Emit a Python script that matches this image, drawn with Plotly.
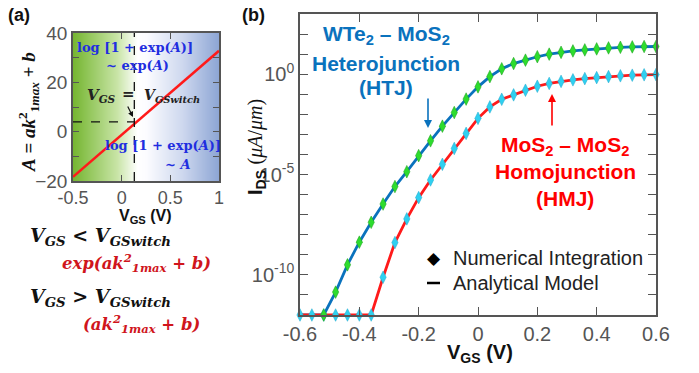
import plotly.graph_objects as go

# ---------------- data ----------------
# panel (a): A = a*k1max^2 + b versus V_GS
a_vgs = [-0.5, 1.0]
a_A = [-18.3, 32.8]
v_switch = 0.13
a_switch = 4.0
a_xticks = [-0.5, 0, 0.5, 1]
a_xticktext = ["-0.5", "0", "0.5", "1"]
a_yticks = [-20, 0, 20, 40]
a_yminor = [-10, 10, 30]

# panel (b): I_DS (log10 of uA/um) versus V_GS, step 0.04 V
vgs = [-0.60, -0.56, -0.52, -0.48, -0.44, -0.40, -0.36, -0.32, -0.28, -0.24,
       -0.20, -0.16, -0.12, -0.08, -0.04, 0.00, 0.04, 0.08, 0.12, 0.16,
       0.20, 0.24, 0.28, 0.32, 0.36, 0.40, 0.44, 0.48, 0.52, 0.56, 0.60]
htj_log = [-12, -12, -12, -10.86, -9.50, -8.37, -7.38, -6.47, -5.60, -4.86,
           -4.06, -3.32, -2.59, -1.91, -1.24, -0.63, -0.12, 0.27, 0.53, 0.70,
           0.87, 1.00, 1.09, 1.16, 1.21, 1.26, 1.31, 1.34, 1.36, 1.38, 1.38]
hmj_log = [-12, -12, -12, -12, -12, -12, -12, -10.12, -8.39, -7.21,
           -6.15, -5.27, -4.49, -3.70, -2.95, -2.20, -1.63, -1.25, -1.03, -0.80,
           -0.60, -0.46, -0.36, -0.28, -0.22, -0.17, -0.12, -0.08, -0.05, -0.03, -0.02]
b_xticks = [-0.6, -0.4, -0.2, 0, 0.2, 0.4, 0.6]
b_xticktext = ["-0.6", "-0.4", "-0.2", "0", "0.2", "0.4", "0.6"]
b_label_decades = [-10, -5, 0]
b_ticktext = ["10<sup>-10</sup>", "10<sup>-5</sup>", "10<sup>0</sup>"]
b_minor_decades = [d for d in range(-12, 4) if d not in b_label_decades]

htj = [10 ** v for v in htj_log]
hmj = [10 ** v for v in hmj_log]

# ---------------- styles ----------------
W, H = 699, 373
SANS = "Liberation Sans, Arial"
SERIF = "Liberation Serif, Times New Roman"
WSERIF = "DejaVu Serif, Liberation Serif"
BLUE_LINE = "#0a72bd"
RED_LINE = "#ff1a1a"
GREEN_MK = "#2edc2e"
CYAN_MK = "#2fd0f0"
TXT_BLUE = "#1f2ee0"
TXT_RED = "#d0151c"
AX = "#555555"
TICKC = "#555555"


def px(x):
    return x / W


def py(y):
    return 1 - y / H


fig = go.Figure()

# gradient background of panel (a)
fig.add_trace(go.Heatmap(
    x=a_vgs, y=[-20, 40], z=[[0, 1], [0, 1]], zsmooth="best",
    colorscale=[[0, "rgb(118,182,50)"], [0.3, "rgb(200,228,166)"],
                [0.44, "rgb(255,255,255)"], [0.5, "rgb(252,252,255)"],
                [0.75, "rgb(205,215,238)"], [1, "rgb(140,165,212)"]],
    showscale=False, hoverinfo="skip", xaxis="x", yaxis="y"))

fig.add_trace(go.Scatter(x=a_vgs, y=a_A, mode="lines",
                         line=dict(color=RED_LINE, width=2.5),
                         xaxis="x", yaxis="y", showlegend=False))

# panel (b) lines and markers
fig.add_trace(go.Scatter(x=vgs, y=htj, mode="lines", line=dict(color=BLUE_LINE, width=2.8),
                         xaxis="x2", yaxis="y2", cliponaxis=False, showlegend=False))
fig.add_trace(go.Scatter(x=vgs, y=hmj, mode="lines", line=dict(color=RED_LINE, width=2.8),
                         xaxis="x2", yaxis="y2", cliponaxis=False, showlegend=False))
fig.add_trace(go.Scatter(x=vgs, y=hmj, mode="markers",
                         marker=dict(symbol="diamond-tall", size=9, color=CYAN_MK,
                                     line=dict(width=0.5, color="#22a8cc")),
                         xaxis="x2", yaxis="y2", cliponaxis=False, showlegend=False))
fig.add_trace(go.Scatter(x=vgs[2:], y=htj[2:], mode="markers",
                         marker=dict(symbol="diamond-tall", size=9, color=GREEN_MK,
                                     line=dict(width=0.5, color="#1a9a1a")),
                         xaxis="x2", yaxis="y2", cliponaxis=False, showlegend=False))

axis_common = dict(showline=True, linecolor=AX, linewidth=1.5, mirror="ticks",
                   ticks="inside", tickcolor=AX, tickwidth=1.3, showgrid=False,
                   zeroline=False, automargin=False,
                   tickfont=dict(family=SANS, size=20, color=TICKC))

fig.update_layout(
    width=W, height=H,
    margin=dict(l=0, r=0, t=0, b=0, pad=0, autoexpand=False),
    paper_bgcolor="white", plot_bgcolor="white", showlegend=False,
    xaxis=dict(domain=[px(73), px(219)], range=[-0.5, 1], tickvals=a_xticks,
               ticktext=a_xticktext, ticklen=6, anchor="y", **axis_common),
    yaxis=dict(domain=[py(181), py(33)], range=[-20, 40], tickvals=a_yticks,
               ticklen=6, anchor="x",
               minor=dict(tickvals=a_yminor, ticks="inside", ticklen=6,
                          tickcolor=AX, tickwidth=1.3, showgrid=False),
               **axis_common),
    xaxis2=dict(domain=[px(300), px(656)], range=[-0.6, 0.6], tickvals=b_xticks,
                ticktext=b_xticktext, ticklen=8, anchor="y2", **axis_common),
    yaxis2=dict(domain=[py(315), py(14)], type="log", range=[-12, 3],
                tickvals=[10 ** d for d in b_label_decades], ticktext=b_ticktext,
                ticklen=8, anchor="x2",
                minor=dict(tickvals=[10 ** d for d in b_minor_decades], ticks="inside",
                           ticklen=8, tickcolor=AX, tickwidth=1.3, showgrid=False),
                **axis_common),
)
fig.layout.xaxis.tickfont.size = 18
fig.layout.yaxis.tickfont.size = 19

# dashed guide lines in panel (a)
fig.add_shape(type="line", xref="x", yref="y", x0=v_switch, x1=v_switch, y0=-20, y1=40,
              line=dict(color="#111", width=1.3, dash="dash"))
fig.add_shape(type="line", xref="x", yref="y", x0=-0.5, x1=v_switch, y0=a_switch, y1=a_switch,
              line=dict(color="#111", width=1.3, dash="dash"))
# legend dash in panel (b)
fig.add_shape(type="line", xref="paper", yref="paper", x0=px(427), x1=px(440),
              y0=py(283), y1=py(283), line=dict(color="black", width=2.5))

ann = []


def text(x, y, t, size, color="#111", family=SANS, xanchor="center", angle=0):
    ann.append(dict(x=px(x), y=py(y), xref="paper", yref="paper", text=t,
                    showarrow=False, xanchor=xanchor, yanchor="middle",
                    textangle=angle, font=dict(family=family, size=size, color=color)))


def arrow(x, y, ax, ay, color, width=1.5, size=1.0):
    ann.append(dict(x=px(x), y=py(y), xref="paper", yref="paper", text="",
                    showarrow=True, ax=ax, ay=ay, arrowhead=2, arrowsize=size,
                    arrowwidth=width, arrowcolor=color))


# panel labels
text(19, 15, "<b>(a)</b>", 18)
text(253, 15, "<b>(b)</b>", 18)

# axis titles
text(145, 216, "<b>V<sub>GS</sub> (V)</b>", 16)
text(480, 353, "<b>V<sub>GS</sub> (V)</b>", 20)
text(29, 112, "<b><i>A</i> = <i>ak</i><sup>2</sup><sub>1<i>max</i></sub> + <i>b</i></b>",
     19, family=SERIF, angle=-90)
text(256, 147, "<b>I<sub>DS</sub></b> <span style='font-family:Liberation Serif'>(<i>μA</i>/<i>μm</i>)</span>",
     20, angle=-90)

# panel (a) inner texts
text(135, 48, "<b>log [1 + exp(<i>A</i>)]</b>", 13, TXT_BLUE, WSERIF)
text(137, 65, "<b>~ exp(<i>A</i>)</b>", 13, TXT_BLUE, WSERIF)
text(101, 96, "<b><i>V<sub>GS</sub></i></b>", 15, "#222", WSERIF)
text(128, 94, "<b>=</b>", 15, "#222", WSERIF)
text(142, 96, "<b><i>V<sub>GSwitch</sub></i></b>", 14, "#222", WSERIF, xanchor="left")
text(163, 145, "<b>log [1 + exp(<i>A</i>)]</b>", 13, TXT_BLUE, WSERIF)
text(178, 164, "<b>~ <i>A</i></b>", 13, TXT_BLUE, WSERIF)
arrow(133, 117, -6, -12, "#111", width=1.2, size=0.9)

# conditions below panel (a)
text(28, 236, "<b><i>V<sub>GS</sub> < V<sub>GSwitch</sub></i></b>", 19, "#111", WSERIF, xanchor="left")
text(136, 263, "<b><i>exp(ak<sup>2</sup><sub>1max</sub> + b)</i></b>", 16.5, TXT_RED, WSERIF)
text(28, 297, "<b><i>V<sub>GS</sub> > V<sub>GSwitch</sub></i></b>", 19, "#111", WSERIF, xanchor="left")
text(141, 324, "<b><i>(ak<sup>2</sup><sub>1max</sub> + b)</i></b>", 16.5, TXT_RED, WSERIF)

# panel (b) annotations
text(386, 35, "<b>WTe<sub>2</sub> – MoS<sub>2</sub></b>", 21, BLUE_LINE)
text(386, 63, "<b>Heterojunction</b>", 21, BLUE_LINE)
text(386, 88, "<b>(HTJ)</b>", 21, BLUE_LINE)
arrow(428, 128, 0, -31, BLUE_LINE, width=1.6)
text(565, 146, "<b>MoS<sub>2</sub> – MoS<sub>2</sub></b>", 21, "#ff0000")
text(565, 171, "<b>Homojunction</b>", 21, "#ff0000")
text(565, 198, "<b>(HMJ)</b>", 21, "#ff0000")
arrow(552, 94, 0, 33, "#ff0000", width=1.6)

# legend of panel (b)
text(434, 258, "◆", 17, "black", "DejaVu Sans")
text(451, 258, "Numerical Integration", 20, "#222", xanchor="left")
text(451, 283, "Analytical Model", 20, "#222", xanchor="left")

fig.update_layout(annotations=ann)
fig.write_html("out.html", config={"displayModeBar": False},
               post_script="document.body.style.margin='0px';")
